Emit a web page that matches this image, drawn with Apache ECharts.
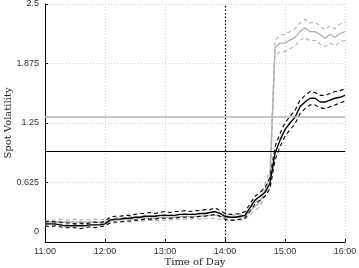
<!DOCTYPE html>
<html>
<head>
<meta charset="utf-8">
<script src="https://cdn.jsdelivr.net/npm/echarts@6/dist/echarts.min.js"></script>
<style>
	html, body { margin: 0; padding: 0; background: #fff; }
	#chart { width: 359px; height: 268px; }
</style>
</head>
<body>
<div id="chart"></div>
<script>
// 5 minute steps, 11:00 - 16:00
var times = [];
for (var h = 11; h <= 16; h++) {
	for (var m = 0; m < 60; m += 5) {
		if (h == 16 && m > 0) break;
		times.push(h + ":" + (m < 10 ? "0" + m : m));
	}
}
var yTicks = [0, 0.625, 1.25, 1.875, 2.5];

var blackMid = [0.19,0.19,0.19,0.18,0.17,0.17,0.17,0.17,0.17,0.18,0.18,0.18,0.19,
	0.23,0.24,0.24,0.25,0.25,0.26,0.26,0.27,0.27,0.27,0.28,0.28,
	0.28,0.28,0.29,0.29,0.29,0.29,0.30,0.30,0.31,0.32,0.30,0.27,
	0.26,0.26,0.27,0.28,0.36,0.44,0.48,0.52,0.62,0.93,1.07,1.18,
	1.25,1.31,1.42,1.47,1.51,1.51,1.47,1.47,1.49,1.51,1.52,1.54];
var blackUp = [0.21,0.22,0.21,0.21,0.20,0.20,0.19,0.20,0.19,0.20,0.21,0.20,0.22,
	0.26,0.27,0.27,0.28,0.28,0.29,0.30,0.30,0.31,0.30,0.31,0.32,
	0.31,0.32,0.32,0.33,0.32,0.33,0.33,0.34,0.34,0.36,0.33,0.30,
	0.29,0.29,0.30,0.32,0.40,0.48,0.52,0.57,0.68,1.00,1.14,1.25,
	1.32,1.38,1.49,1.54,1.58,1.57,1.54,1.54,1.56,1.58,1.59,1.61];
var blackLow = [0.17,0.16,0.17,0.16,0.15,0.15,0.15,0.14,0.15,0.16,0.15,0.16,0.17,
	0.20,0.21,0.21,0.22,0.22,0.23,0.23,0.24,0.24,0.24,0.25,0.25,
	0.25,0.25,0.26,0.26,0.26,0.26,0.27,0.27,0.28,0.29,0.27,0.24,
	0.23,0.23,0.24,0.25,0.32,0.40,0.44,0.48,0.56,0.86,1.00,1.11,
	1.18,1.24,1.35,1.40,1.44,1.44,1.41,1.40,1.42,1.44,1.46,1.48];

var grayMid = [0.20,0.21,0.21,0.21,0.21,0.21,0.21,0.21,0.21,0.21,0.21,0.21,0.21,
	0.22,0.23,0.23,0.24,0.24,0.24,0.25,0.25,0.25,0.25,0.26,0.26,
	0.26,0.26,0.27,0.27,0.27,0.27,0.27,0.28,0.28,0.28,0.27,0.26,
	0.26,0.26,0.26,0.27,0.33,0.37,0.42,0.55,0.68,2.04,2.09,2.09,
	2.12,2.15,2.21,2.25,2.21,2.21,2.18,2.14,2.18,2.15,2.19,2.21];
var grayUp = [0.22,0.23,0.23,0.24,0.23,0.23,0.24,0.23,0.24,0.23,0.24,0.23,0.24,
	0.24,0.25,0.26,0.26,0.27,0.26,0.27,0.28,0.27,0.28,0.28,0.29,
	0.28,0.29,0.29,0.30,0.29,0.30,0.30,0.30,0.31,0.31,0.30,0.28,
	0.29,0.28,0.29,0.30,0.36,0.41,0.47,0.61,0.75,2.12,2.17,2.18,
	2.21,2.24,2.30,2.34,2.30,2.31,2.27,2.23,2.27,2.24,2.29,2.31];
var grayLow = [0.18,0.19,0.18,0.19,0.18,0.19,0.18,0.19,0.18,0.19,0.18,0.19,0.18,
	0.20,0.20,0.21,0.21,0.21,0.22,0.22,0.22,0.23,0.22,0.23,0.23,
	0.23,0.24,0.24,0.24,0.24,0.25,0.24,0.25,0.25,0.25,0.24,0.23,
	0.23,0.23,0.23,0.24,0.29,0.33,0.37,0.49,0.61,1.96,2.00,2.00,
	2.03,2.06,2.12,2.15,2.11,2.12,2.08,2.05,2.09,2.06,2.10,2.12];

var grayLevel = 1.32;
var blackLevel = 0.955;
var eventTime = "14:00";

var GRAY = "#b0b0b0";

function lineSeries(data, color, dashed, width){
	return {
		type: "line",
		data: data,
		showSymbol: false,
		silent: true,
		lineStyle: { color: color, width: width || 1.1, type: dashed ? [4, 3] : "solid" },
		z: color == GRAY ? 3 : 4
	};
}

var chart = echarts.init(document.getElementById("chart"));
var series = [
	lineSeries(grayUp, GRAY, true),
	lineSeries(grayLow, GRAY, true),
	lineSeries(grayMid, GRAY, false, 1.3),
	lineSeries(blackUp, "#000", true),
	lineSeries(blackLow, "#000", true),
	lineSeries(blackMid, "#000", false, 1.4)
];
series[2].markLine = {
	silent: true,
	symbol: "none",
	label: { show: false },
	data: [
		{ yAxis: grayLevel, lineStyle: { color: "#b4b4b4", width: 1.6, type: "solid" } },
		{ yAxis: blackLevel, lineStyle: { color: "#000", width: 1.1, type: "solid" } },
		{ xAxis: eventTime, lineStyle: { color: "#000", width: 1.2, type: [1.5, 2] } }
	]
};

chart.setOption({
	animation: false,
	backgroundColor: "#fff",
	grid: { left: 45, right: 14, top: 4, bottom: 26, outerBoundsMode: "none", containLabel: false },
	xAxis: {
		type: "category",
		data: times,
		boundaryGap: false,
		name: "Time of Day",
		nameLocation: "middle",
		nameGap: 15,
		nameMoveOverlap: false,
		nameTextStyle: { fontFamily: "DejaVu Serif", fontSize: 10, color: "#222" },
		axisLine: { lineStyle: { color: "#000", width: 1 } },
		axisTick: { inside: true, length: 3, interval: 11, lineStyle: { color: "#000" } },
		axisLabel: { interval: 11, fontSize: 9, color: "#333", margin: 5, fontFamily: "Liberation Sans" },
		splitLine: { show: true, interval: 11, lineStyle: { color: "#d0d0d0", type: [1, 2], width: 1 } }
	},
	yAxis: {
		type: "value",
		min: 0,
		max: 2.5,
		interval: 0.625,
		name: "Spot Volatility",
		nameLocation: "middle",
		nameGap: 32,
		nameMoveOverlap: false,
		nameTextStyle: { fontFamily: "DejaVu Serif", fontSize: 10, color: "#222" },
		axisLine: { show: true, lineStyle: { color: "#000", width: 1 } },
		axisTick: { show: true, inside: true, length: 3, lineStyle: { color: "#000" } },
		axisLabel: {
			fontSize: 9, color: "#333", margin: 6, fontFamily: "Liberation Sans",
			formatter: function(v){
				if (v == yTicks[0]) return "{z|" + v + "}";
				return String(v);
			},
			rich: { z: { fontSize: 9, color: "#333", padding: [0, 0, 20, 0] } }
		},
		splitLine: { show: true, lineStyle: { color: "#d0d0d0", type: [1, 2], width: 1 } }
	},
	series: series
});
</script>
</body>
</html>
